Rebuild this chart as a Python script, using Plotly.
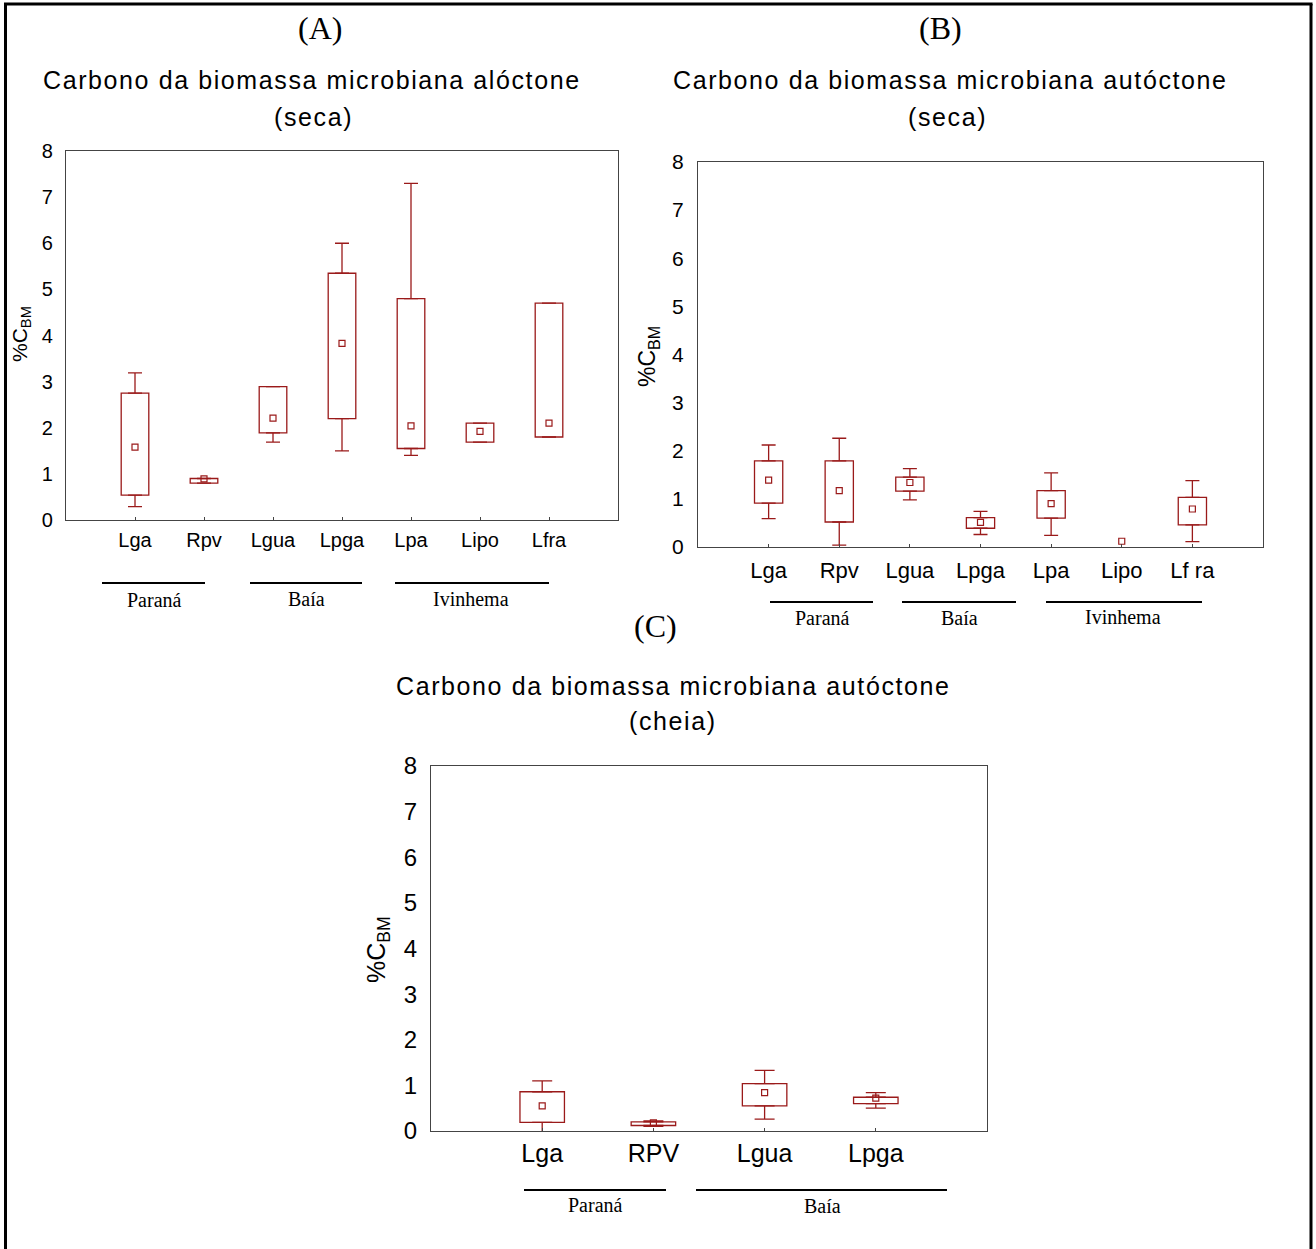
import plotly.graph_objects as go

# ---------------- data ----------------
A_cats = ["Lga", "Rpv", "Lgua", "Lpga", "Lpa", "Lipo", "Lfra"]
A_mean = [1.58, 0.89, 2.21, 3.83, 2.04, 1.92, 2.10]
A_q1 = [0.54, 0.80, 1.89, 2.20, 1.55, 1.69, 1.80]
A_q3 = [2.75, 0.90, 2.89, 5.35, 4.80, 2.10, 4.70]
A_low = [0.29, 0.80, 1.69, 1.50, 1.40, 1.69, 1.80]
A_high = [3.19, 0.90, 2.89, 6.00, 7.30, 2.10, 4.70]

B_cats = ["Lga", "Rpv", "Lgua", "Lpga", "Lpa", "Lipo", "Lf ra"]
B_mean = [1.39, 1.17, 1.34, 0.51, 0.90, 0.12, 0.79]
B_q1 = [0.91, 0.52, 1.16, 0.39, 0.60, None, 0.46]
B_q3 = [1.79, 1.79, 1.45, 0.61, 1.17, None, 1.03]
B_low = [0.59, 0.04, 0.98, 0.26, 0.24, None, 0.11]
B_high = [2.12, 2.26, 1.63, 0.74, 1.54, None, 1.38]

C_cats = ["Lga", "RPV", "Lgua", "Lpga"]
C_mean = [0.55, 0.18, 0.84, 0.72]
C_q1 = [0.19, 0.12, 0.55, 0.60]
C_q3 = [0.86, 0.20, 1.04, 0.74]
C_low = [-0.05, 0.10, 0.26, 0.50]
C_high = [1.10, 0.22, 1.33, 0.84]

y_ticks = [0, 1, 2, 3, 4, 5, 6, 7, 8]

# ---------------- styling ----------------
W, H = 1316, 1249
RED = "#9a1a1a"
AX = "#444444"
SANS = "Liberation Sans, Arial, sans-serif"
SERIF = "Liberation Serif, Times New Roman, serif"


def px(x):
    return x / W


def py(y):
    return 1 - y / H


def sub(a, b):
    return [None if (u is None or v is None) else round(u - v, 4) for u, v in zip(a, b)]


fig = go.Figure()

panels = [
    ("x", "y", A_cats, A_mean, A_q1, A_q3, A_low, A_high, 7),
    ("x2", "y2", B_cats, B_mean, B_q1, B_q3, B_low, B_high, 7),
    ("x3", "y3", C_cats, C_mean, C_q1, C_q3, C_low, C_high, 10),
]

for xa, ya, cats, mean, q1, q3, low, high, cap in panels:
    fig.add_trace(go.Bar(
        x=cats, y=sub(q3, q1), base=q1, width=0.4,
        marker=dict(color="white", line=dict(color=RED, width=1.3)),
        xaxis=xa, yaxis=ya, showlegend=False, hoverinfo="skip"))
    fig.add_trace(go.Scatter(
        x=cats, y=q3, mode="markers",
        marker=dict(color="rgba(0,0,0,0)", size=1),
        error_y=dict(type="data", symmetric=False, array=sub(high, q3),
                     arrayminus=[0] * len(cats), width=cap, thickness=1.3, color=RED),
        xaxis=xa, yaxis=ya, showlegend=False, hoverinfo="skip"))
    fig.add_trace(go.Scatter(
        x=cats, y=q1, mode="markers",
        marker=dict(color="rgba(0,0,0,0)", size=1),
        error_y=dict(type="data", symmetric=False, array=[0] * len(cats),
                     arrayminus=sub(q1, low), width=cap, thickness=1.3, color=RED),
        xaxis=xa, yaxis=ya, showlegend=False, hoverinfo="skip"))
    fig.add_trace(go.Scatter(
        x=cats, y=mean, mode="markers",
        marker=dict(symbol="square-open", size=6, color=RED, line=dict(width=1.2, color=RED)),
        xaxis=xa, yaxis=ya, showlegend=False, hoverinfo="skip"))


def xaxis_cfg(dom, n, fs, so):
    return dict(domain=[px(dom[0]), px(dom[1])], range=[-1, n], type="category",
                showline=True, linecolor=AX, linewidth=1.3, mirror=True, automargin=False,
                ticks="inside", ticklen=3, tickcolor=AX, showgrid=False, zeroline=False,
                tickfont=dict(family=SANS, size=fs, color="black"), ticklabelstandoff=so)


def yaxis_cfg(dom, fs, anchor, so):
    return dict(domain=[py(dom[1]), py(dom[0])], range=[0, 8], tickvals=y_ticks,
                showline=True, linecolor=AX, linewidth=1.3, mirror=True, automargin=False,
                ticks="", showgrid=False, zeroline=False, anchor=anchor,
                tickfont=dict(family=SANS, size=fs, color="black"), ticklabelstandoff=so)


fig.update_layout(
    width=W, height=H, margin=dict(l=0, r=0, t=0, b=0, autoexpand=False),
    paper_bgcolor="white", plot_bgcolor="white", showlegend=False, barmode="overlay",
    xaxis=dict(xaxis_cfg((66, 618), 7, 20, 2), anchor="y"),
    yaxis=yaxis_cfg((151, 520), 20, "x", 8),
    xaxis2=dict(xaxis_cfg((698, 1263), 7, 22, 3), anchor="y2"),
    yaxis2=yaxis_cfg((162, 547), 21, "x2", 9),
    xaxis3=dict(xaxis_cfg((431, 987), 4, 25, 0), anchor="y3"),
    yaxis3=yaxis_cfg((766, 1131), 24, "x3", 8),
)

ann = []


def text(x, y, s, family, size, angle=0):
    ann.append(dict(x=px(x), y=py(y), xref="paper", yref="paper", text=s, showarrow=False,
                    xanchor="center", yanchor="middle", textangle=angle,
                    font=dict(family=family, size=size, color="black")))


LS = '<span style="letter-spacing:1.6px">%s</span>'
# panel letters
text(320, 28, "(A)", SERIF, 32)
text(940, 28, "(B)", SERIF, 32)
text(655, 626, "(C)", SERIF, 32)
# titles
text(312, 80, LS % "Carbono da biomassa microbiana alóctone", SANS, 25)
text(313, 117, LS % "(seca)", SANS, 25)
text(950, 80, LS % "Carbono da biomassa microbiana autóctone", SANS, 25)
text(947, 117, LS % "(seca)", SANS, 25)
text(673, 686, LS % "Carbono da biomassa microbiana autóctone", SANS, 25)
text(673, 721, LS % "(cheia)", SANS, 25)
# y titles
text(21, 334, "%C<sub>BM</sub>", SANS, 21, -90)
text(648, 357, "%C<sub>BM</sub>", SANS, 23, -90)
text(378, 950, "%C<sub>BM</sub>", SANS, 25, -90)
# group labels
text(154, 600, "Paraná", SERIF, 20)
text(306, 599, "Baía", SERIF, 20)
text(471, 599, "Ivinhema", SERIF, 20)
text(822, 618, "Paraná", SERIF, 20)
text(959, 618, "Baía", SERIF, 20)
text(1123, 617, "Ivinhema", SERIF, 20)
text(595, 1205, "Paraná", SERIF, 20)
text(822, 1206, "Baía", SERIF, 20)

shapes = []


def hline(x0, x1, y, w=2.2):
    shapes.append(dict(type="line", xref="paper", yref="paper", x0=px(x0), x1=px(x1),
                       y0=py(y), y1=py(y), line=dict(color="black", width=w)))


hline(102, 205, 583)
hline(250, 362, 583)
hline(395, 549, 583)
hline(770, 873, 602)
hline(902, 1016, 602)
hline(1046, 1202, 602)
hline(524, 666, 1190)
hline(696, 947, 1190)

# outer frame
for (x0, y0, x1, y1) in [(5.5, 4, 5.5, 1260), (4, 4, 1312.5, 4), (1311, 4, 1311, 1260)]:
    shapes.append(dict(type="line", xref="paper", yref="paper", x0=px(x0), x1=px(x1),
                       y0=py(y0), y1=py(y1), line=dict(color="black", width=3)))

fig.update_layout(annotations=ann, shapes=shapes)
fig.write_html("out.html")
